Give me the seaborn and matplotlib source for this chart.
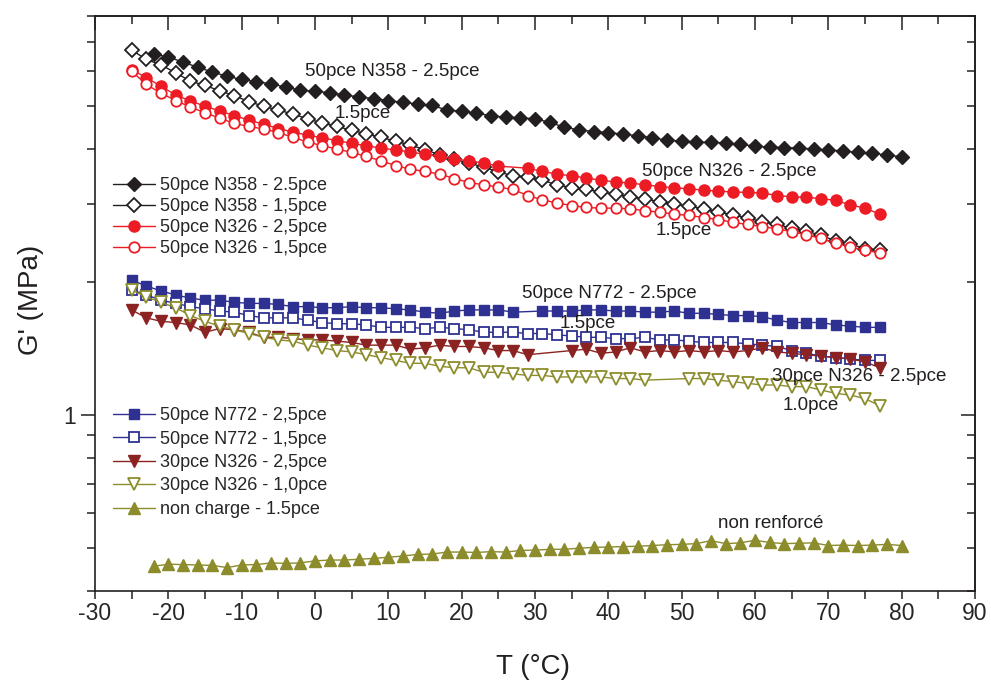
import numpy as np
import pandas as pd
import matplotlib
matplotlib.use("Agg")
import matplotlib.pyplot as plt
from matplotlib.ticker import NullFormatter, FixedLocator
import seaborn as sns

# temperature grids (degC)
temps_short = [-25, -23, -21, -19, -17, -15, -13, -11, -9, -7, -5, -3, -1, 1, 3, 5, 7, 9, 11, 13,
               15, 17, 19, 21, 23, 25, 27, 29, 31, 33, 35, 37, 39, 41, 43, 45, 47, 49, 51, 53,
               55, 57, 59, 61, 63, 65, 67, 69, 71, 73, 75, 77]
temps_long = [-22, -20, -18, -16, -14, -12, -10, -8, -6, -4, -2, 0, 2, 4, 6, 8, 10, 12, 14, 16,
              18, 20, 22, 24, 26, 28, 30, 32, 34, 36, 38, 40, 42, 44, 46, 48, 50, 52, 54, 56,
              58, 60, 62, 64, 66, 68, 70, 72, 74, 76, 78, 80]

# G' (MPa)
n358_25 = [6.58, 6.45, 6.30, 6.12, 5.98, 5.84, 5.75, 5.68, 5.62, 5.52, 5.44, 5.40, 5.37, 5.30,
           5.25, 5.20, 5.15, 5.10, 5.06, 5.02, 4.90, 4.87, 4.82, 4.76, 4.72, 4.71, 4.68, 4.60,
           4.48, 4.42, 4.38, 4.36, 4.32, 4.29, 4.24, 4.19, 4.17, 4.15, 4.14, 4.13, 4.10, 4.06,
           4.04, 4.03, 4.02, 4.00, 3.98, 3.96, 3.93, 3.91, 3.88, 3.84]
n358_15 = [6.70, 6.38, 6.20, 5.95, 5.70, 5.57, 5.42, 5.28, 5.12, 5.00, 4.90, 4.80, 4.68, 4.58,
           4.50, 4.41, 4.33, 4.25, 4.17, 4.08, 3.99, 3.88, 3.79, 3.72, 3.64, 3.55, 3.48, 3.45,
           3.40, 3.32, 3.27, 3.24, 3.20, 3.16, 3.12, 3.08, 3.04, 3.00, 2.97, 2.93, 2.88, 2.84,
           2.79, 2.74, 2.70, 2.65, 2.61, 2.55, 2.48, 2.44, 2.38, 2.36]
n326_25 = [6.05, 5.80, 5.55, 5.30, 5.14, 5.00, 4.88, 4.76, 4.65, 4.55, 4.45, 4.37, 4.30, 4.24,
           4.18, 4.12, 4.07, 4.02, 3.98, 3.94, 3.89, 3.85, 3.80, 3.76, 3.72, 3.66, None, 3.62,
           3.56, 3.51, 3.48, 3.44, 3.40, 3.37, 3.35, 3.32, 3.29, 3.27, 3.25, 3.23, 3.21, 3.20,
           3.19, 3.18, 3.14, 3.12, 3.11, 3.09, 3.06, 2.99, 2.94, 2.85]
n326_15 = [6.00, 5.60, 5.35, 5.15, 4.98, 4.83, 4.70, 4.57, 4.50, 4.44, 4.36, 4.25, 4.15, 4.07,
           4.00, 3.93, 3.85, 3.76, 3.67, 3.60, 3.56, 3.51, 3.43, 3.36, 3.32, 3.28, 3.24, 3.14,
           3.07, 3.02, 2.98, 2.95, 2.94, 2.94, 2.93, 2.90, 2.88, 2.85, 2.83, 2.80, 2.77, 2.73,
           2.70, 2.67, 2.64, 2.60, 2.56, 2.51, 2.45, 2.40, 2.36, 2.33]
n772_25 = [2.02, 1.96, 1.91, 1.87, 1.84, 1.82, 1.82, 1.80, 1.79, 1.79, 1.78, 1.76, 1.76, 1.75,
           1.75, 1.76, 1.75, 1.75, 1.74, 1.73, 1.71, 1.70, 1.72, 1.73, 1.73, 1.73, 1.71, None,
           1.72, 1.72, 1.72, 1.73, 1.73, 1.72, 1.72, 1.71, 1.71, 1.72, 1.70, 1.70, 1.69, 1.68,
           1.68, 1.67, 1.64, 1.62, 1.62, 1.62, 1.60, 1.59, 1.58, 1.58]
n772_15 = [1.92, 1.87, 1.82, 1.79, 1.76, 1.74, 1.72, 1.71, 1.68, 1.66, 1.66, 1.66, 1.64, 1.62,
           1.61, 1.61, 1.60, 1.58, 1.58, 1.58, 1.57, 1.58, 1.57, 1.56, 1.54, 1.54, 1.54, 1.53,
           1.53, 1.52, 1.51, 1.50, 1.50, 1.49, 1.49, 1.50, 1.48, 1.48, 1.47, 1.46, 1.46, 1.46,
           1.45, 1.44, 1.43, 1.40, 1.38, 1.36, 1.35, 1.34, 1.33, 1.33]
n326_30_25 = [1.73, 1.66, 1.63, 1.62, 1.60, 1.54, 1.57, 1.56, 1.54, 1.50, 1.50, 1.49, 1.48, 1.48,
              1.47, 1.46, 1.44, 1.44, 1.44, 1.41, 1.42, 1.44, 1.43, 1.43, 1.42, 1.40, 1.40, 1.37,
              None, None, 1.40, 1.41, 1.38, 1.39, 1.42, 1.39, 1.40, 1.39, 1.40, 1.39, 1.40, 1.39,
              1.40, 1.42, 1.39, 1.38, 1.37, 1.36, 1.35, 1.34, 1.32, 1.28]
n326_30_10 = [1.92, 1.85, 1.80, 1.75, 1.68, 1.63, 1.59, 1.56, 1.53, 1.50, 1.48, 1.47, 1.44, 1.42,
              1.40, 1.39, 1.37, 1.35, 1.33, 1.31, 1.31, 1.29, 1.28, 1.28, 1.25, 1.25, 1.24, 1.23,
              1.23, 1.22, 1.22, 1.22, 1.22, 1.21, 1.21, 1.20, None, None, 1.21, 1.21, 1.20, 1.19,
              1.18, 1.17, 1.17, 1.16, 1.16, 1.14, 1.12, 1.11, 1.09, 1.05]
non_charge = [0.455, 0.460, 0.459, 0.458, 0.457, 0.452, 0.458, 0.459, 0.463, 0.462, 0.463, 0.468,
              0.470, 0.470, 0.472, 0.474, 0.477, 0.480, 0.484, 0.485, 0.490, 0.490, 0.489, 0.491,
              0.490, 0.494, 0.495, 0.497, 0.497, 0.500, 0.502, 0.503, 0.504, 0.505, 0.507, 0.509,
              0.510, 0.512, 0.520, 0.512, 0.514, 0.521, 0.515, 0.512, 0.513, 0.514, 0.507, 0.508,
              0.507, 0.508, 0.510, 0.507]

ink = "#231f20"
red = "#ed1c24"
blue = "#2e3192"
dred = "#8c2323"
olive = "#8c8c2c"

# label, temps, values, marker, color, filled, marker size
series = [
    ("50pce N358 - 2.5pce", temps_long, n358_25, "D", ink, True, 7.5),
    ("50pce N358 - 1,5pce", temps_short, n358_15, "D", ink, False, 7.5),
    ("50pce N326 - 2,5pce", temps_short, n326_25, "o", red, True, 8),
    ("50pce N326 - 1,5pce", temps_short, n326_15, "o", red, False, 7.5),
    ("50pce N772 - 2,5pce", temps_short, n772_25, "s", blue, True, 7.5),
    ("50pce N772 - 1,5pce", temps_short, n772_15, "s", blue, False, 7),
    ("30pce N326 - 2,5pce", temps_short, n326_30_25, "v", dred, True, 9),
    ("30pce N326 - 1,0pce", temps_short, n326_30_10, "v", olive, False, 9),
    ("non charge - 1.5pce", temps_long, non_charge, "^", olive, True, 9),
]

sns.set_style("ticks")
plt.rcParams["font.family"] = ["Liberation Sans", "DejaVu Sans"]
plt.rcParams["axes.unicode_minus"] = False

fig = plt.figure(figsize=(9.91, 6.82), dpi=100)
ax = fig.add_axes([95 / 991, 1 - 591 / 682, 880 / 991, 575 / 682])

for label, temps, vals, mk, col, filled, ms in series:
    df = pd.DataFrame({"T": temps, "G": vals}).dropna()
    sns.lineplot(data=df, x="T", y="G", ax=ax, color=col, linewidth=1.0,
                 marker=mk, markersize=ms,
                 markerfacecolor=col if filled else "white",
                 markeredgecolor=col, markeredgewidth=1.0 if filled else 1.3,
                 label=label, errorbar=None, estimator=None)

ax.set_yscale("log")
ax.set_xlim(-30, 90)
ax.set_ylim(0.4, 8)
ax.set_xticks(range(-30, 91, 10))
ax.set_xticks(range(-25, 90, 10), minor=True)
ax.yaxis.set_major_locator(FixedLocator([1]))
ax.yaxis.set_minor_locator(FixedLocator([0.4, 0.5, 0.6, 0.7, 0.8, 0.9, 2, 3, 4, 5, 6, 7, 8]))
ax.yaxis.set_minor_formatter(NullFormatter())
ax.set_yticklabels(["1"])

ax.tick_params(axis="x", which="both", direction="out", length=6, width=1.1, color=ink,
               labelsize=16.5, pad=2, top=False)
ax.tick_params(axis="y", which="major", direction="out", length=10, width=1.1, color=ink,
               labelsize=16.5, pad=4, right=False)
ax.tick_params(axis="y", which="minor", direction="out", length=5.5, width=1.1, color=ink,
               right=False)
for sp in ax.spines.values():
    sp.set_visible(True)
    sp.set_linewidth(1.2)
    sp.set_color(ink)

top = ax.secondary_xaxis("top")
top.set_xticks(range(-30, 91, 10))
top.set_xticks(range(-25, 90, 10), minor=True)
top.tick_params(which="major", direction="in", length=10, width=1.1, color=ink, labeltop=False)
top.tick_params(which="minor", direction="in", length=5.5, width=1.1, color=ink)
top.spines["top"].set_linewidth(1.2)
top.spines["top"].set_color(ink)

right = ax.secondary_yaxis("right")
right.yaxis.set_major_locator(FixedLocator([1]))
right.yaxis.set_minor_locator(FixedLocator([0.4, 0.5, 0.6, 0.7, 0.8, 0.9, 2, 3, 4, 5, 6, 7, 8]))
right.yaxis.set_minor_formatter(NullFormatter())
right.tick_params(which="major", direction="in", length=10, width=1.1, color=ink, labelright=False)
right.tick_params(which="minor", direction="in", length=5.5, width=1.1, color=ink)
right.spines["right"].set_linewidth(1.2)
right.spines["right"].set_color(ink)

ax.set_xlabel("T (°C)", fontsize=20, color=ink)
ax.set_ylabel("G' (MPa)", fontsize=20, color=ink)
ax.xaxis.set_label_coords(0.498, -0.11)
ax.yaxis.set_label_coords(-0.058, 0.506)

handles, labels = ax.get_legend_handles_labels()
ax.legend_ = None
leg1 = fig.legend(handles[:4], labels[:4], loc="upper left", bbox_to_anchor=(113 / 991, 1 - 177 / 682),
                  frameon=False, fontsize=13, handlelength=2.3, handletextpad=0.3,
                  labelspacing=0.23, borderpad=0, borderaxespad=0)
leg2 = fig.legend(handles[4:], labels[4:], loc="upper left", bbox_to_anchor=(113 / 991, 1 - 407 / 682),
                  frameon=False, fontsize=13, handlelength=2.3, handletextpad=0.3,
                  labelspacing=0.36, borderpad=0, borderaxespad=0)

notes = [
    (-1.4, 5.98, "50pce N358 - 2.5pce"),
    (2.7, 4.82, "1.5pce"),
    (44.6, 3.55, "50pce N326 - 2.5pce"),
    (46.4, 2.62, "1.5pce"),
    (28.2, 1.88, "50pce N772 - 2.5pce"),
    (33.4, 1.61, "1.5pce"),
    (62.3, 1.22, "30pce N326 - 2.5pce"),
    (63.8, 1.05, "1.0pce"),
    (55.0, 0.570, "non renforcé"),
]
for x, y, s in notes:
    ax.text(x, y, s, fontsize=13.5, color=ink, ha="left", va="center")

fig.savefig("out.png", dpi=100)
